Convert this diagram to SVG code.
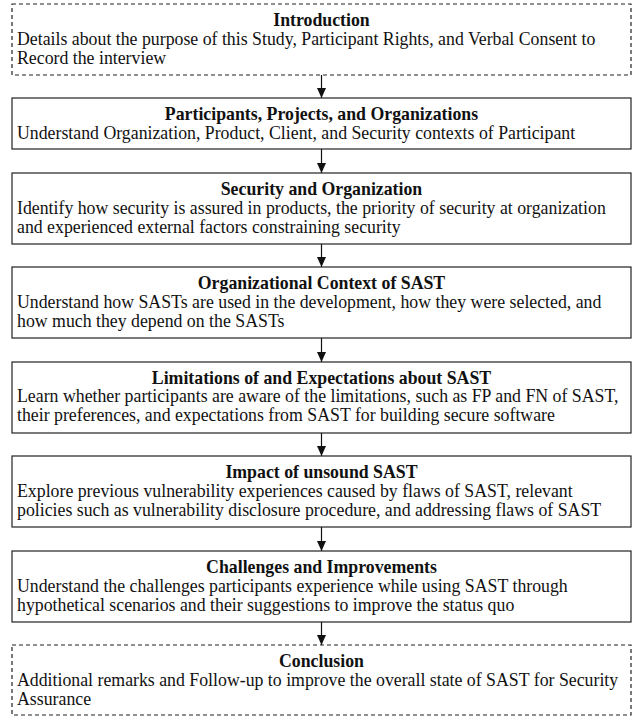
<svg xmlns="http://www.w3.org/2000/svg" width="635" height="717" viewBox="0 0 635 717">
<style>
.box{fill:#fff;stroke:#222;stroke-width:1.2}
.dash{stroke-dasharray:4 3}
.t{font-family:"Liberation Serif","Times New Roman",serif;font-size:17.8px;fill:#111}
.h{font-weight:bold;text-anchor:middle}
.c{stroke:#111;stroke-width:1.2;fill:none}
</style>
<defs>
<marker id="ah" viewBox="0 0 10 10" refX="10" refY="5" markerWidth="10" markerHeight="10" markerUnits="userSpaceOnUse" orient="auto">
<path d="M0,0.5 L10,5 L0,9.5 Z" fill="#111"/>
</marker>
</defs>
<rect width="635" height="717" fill="#fff"/>
<g id="connectors">
<path class="c" d="M321.5,75 V98" marker-end="url(#ah)"/>
<path class="c" d="M321.5,149 V173" marker-end="url(#ah)"/>
<path class="c" d="M321.5,244 V267" marker-end="url(#ah)"/>
<path class="c" d="M321.5,338 V362" marker-end="url(#ah)"/>
<path class="c" d="M321.5,433 V456" marker-end="url(#ah)"/>
<path class="c" d="M321.5,527 V551" marker-end="url(#ah)"/>
<path class="c" d="M321.5,622 V645" marker-end="url(#ah)"/>
</g>
<g id="intro">
<rect class="box dash" x="12" y="4" width="619" height="71"/>
<text class="t h" x="321.5" y="25.5">Introduction</text>
<text class="t" x="17" y="44.5">Details about the purpose of this Study, Participant Rights, and Verbal Consent to</text>
<text class="t" x="17" y="64">Record the interview</text>
</g>
<g id="participants">
<rect class="box" x="12" y="98" width="619" height="51"/>
<text class="t h" x="321.5" y="119.5">Participants, Projects, and Organizations</text>
<text class="t" x="17" y="138.5">Understand Organization, Product, Client, and Security contexts of Participant</text>
</g>
<g id="security">
<rect class="box" x="12" y="173" width="619" height="71"/>
<text class="t h" x="321.5" y="194.5">Security and Organization</text>
<text class="t" x="17" y="213.5">Identify how security is assured in products, the priority of security at organization</text>
<text class="t" x="17" y="232.5">and experienced external factors constraining security</text>
</g>
<g id="context">
<rect class="box" x="12" y="267" width="619" height="71"/>
<text class="t h" x="321.5" y="288.5">Organizational Context of SAST</text>
<text class="t" x="17" y="307.5">Understand how SASTs are used in the development, how they were selected, and</text>
<text class="t" x="17" y="326.5">how much they depend on the SASTs</text>
</g>
<g id="limitations">
<rect class="box" x="12" y="362" width="619" height="71"/>
<text class="t h" x="321.5" y="383.5">Limitations of and Expectations about SAST</text>
<text class="t" x="17" y="402">Learn whether participants are aware of the limitations, such as FP and FN of SAST,</text>
<text class="t" x="17" y="421">their preferences, and expectations from SAST for building secure software</text>
</g>
<g id="impact">
<rect class="box" x="12" y="456" width="619" height="71"/>
<text class="t h" x="321.5" y="477.5">Impact of unsound SAST</text>
<text class="t" x="17" y="496.5">Explore previous vulnerability experiences caused by flaws of SAST, relevant</text>
<text class="t" x="17" y="515.5">policies such as vulnerability disclosure procedure, and addressing flaws of SAST</text>
</g>
<g id="challenges">
<rect class="box" x="12" y="551" width="619" height="71"/>
<text class="t h" x="321.5" y="572.5">Challenges and Improvements</text>
<text class="t" x="17" y="591.5">Understand the challenges participants experience while using SAST through</text>
<text class="t" x="17" y="610.5">hypothetical scenarios and their suggestions to improve the status quo</text>
</g>
<g id="conclusion">
<rect class="box dash" x="12" y="645" width="619" height="70"/>
<text class="t h" x="321.5" y="666.5">Conclusion</text>
<text class="t" x="17" y="685.5">Additional remarks and Follow-up to improve the overall state of SAST for Security</text>
<text class="t" x="17" y="704.5">Assurance</text>
</g>
</svg>
